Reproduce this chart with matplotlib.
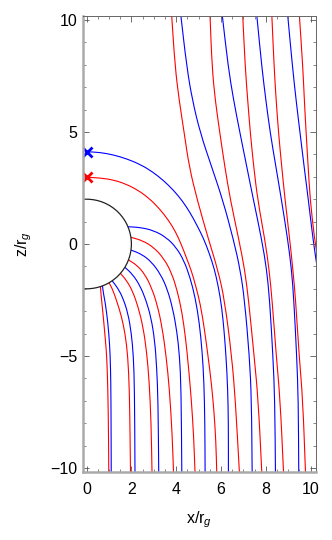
import numpy as np
import matplotlib.pyplot as plt
from matplotlib.patches import Circle, PathPatch
from matplotlib.path import Path

plt.rcParams['font.family'] = ['Liberation Sans', 'DejaVu Sans']
plt.rcParams['mathtext.fontset'] = 'custom'
plt.rcParams['mathtext.rm'] = 'Liberation Sans'
plt.rcParams['mathtext.it'] = 'Liberation Sans:italic'

# field lines, (x, z) in units of r_g
# lines starting on the horizon
red_bh = [
    ([0.62, 0.64, 0.68, 0.76, 0.84, 0.90, 0.95, 0.98, 0.99],
     [-1.90, -2.20, -2.60, -3.40, -4.30, -5.00, -6.50, -8.50, -10.18]),
    ([1.00, 1.15, 1.33, 1.55, 1.72, 1.84, 1.91, 1.94, 1.96],
     [-1.73, -2.00, -2.50, -3.20, -4.00, -5.00, -6.50, -8.50, -10.18]),
    ([1.51, 1.80, 2.05, 2.30, 2.52, 2.68, 2.80, 2.88, 2.92],
     [-1.31, -1.65, -2.10, -2.80, -3.70, -4.80, -6.20, -8.00, -10.18]),
    ([1.87, 2.25, 2.60, 2.90, 3.15, 3.37, 3.55, 3.70, 3.82, 3.88],
     [-0.71, -0.95, -1.35, -1.95, -2.70, -3.70, -5.00, -6.50, -8.50, -10.18]),
    ([1.98, 2.50, 3.00, 3.45, 3.80, 4.05, 4.25, 4.42, 4.55, 4.68, 4.78, 4.84],
     [0.30, 0.15, -0.15, -0.65, -1.30, -2.10, -3.00, -4.20, -5.50, -7.00, -8.60, -10.18]),
]
blue_bh = [
    ([0.71, 0.75, 0.83, 0.95, 1.03, 1.07, 1.09, 1.10],
     [-1.87, -2.20, -2.60, -3.50, -4.50, -5.50, -7.00, -10.18]),
    ([1.14, 1.38, 1.62, 1.85, 2.00, 2.09, 2.14, 2.16],
     [-1.64, -1.95, -2.40, -3.10, -4.00, -5.00, -6.50, -10.18]),
    ([1.71, 2.05, 2.38, 2.65, 2.88, 3.04, 3.13, 3.19, 3.22],
     [-1.04, -1.35, -1.85, -2.50, -3.30, -4.30, -5.50, -7.00, -10.18]),
    ([1.98, 2.45, 2.90, 3.30, 3.60, 3.85, 4.03, 4.15, 4.22, 4.25],
     [-0.27, -0.45, -0.80, -1.35, -2.00, -2.90, -3.90, -5.00, -6.50, -10.18]),
    ([1.85, 2.40, 3.00, 3.55, 4.00, 4.35, 4.62, 4.85, 5.03, 5.16, 5.24, 5.28, 5.29],
     [0.77, 0.74, 0.60, 0.30, -0.15, -0.75, -1.50, -2.40, -3.50, -4.80, -6.20, -8.00, -10.18]),
]

# lines through the marked points on the axis
red_cross_x = [0.00, 0.60, 1.20, 1.75, 2.30, 2.80, 3.25, 3.65, 3.97, 4.22, 4.45, 4.68,
               4.88, 5.08, 5.26, 5.42, 5.57, 5.69, 5.77, 5.81]
red_cross_z = [2.98, 2.95, 2.86, 2.68, 2.40, 2.03, 1.58, 1.07, 0.55, 0.00, -0.60, -1.20,
               -1.90, -2.70, -3.80, -5.00, -6.20, -7.50, -8.80, -10.18]
blue_cross_x = [0.00, 0.60, 1.20, 1.80, 2.40, 2.95, 3.45, 3.88, 4.28, 4.62, 4.92, 5.22,
                5.47, 5.70, 5.88, 6.03, 6.14, 6.23, 6.30, 6.33, 6.33]
blue_cross_z = [4.12, 4.09, 3.98, 3.80, 3.55, 3.22, 2.82, 2.40, 1.92, 1.40, 0.85, 0.25,
                -0.40, -1.10, -1.90, -2.80, -3.90, -5.10, -6.50, -8.00, -10.18]

# lines coming in from the top
z_lev = [10.18, 7.92, 6.43, 4.94, 3.45, 1.96, 0.18, -1.16, -2.50, -5.03, -6.96, -10.18]
red_top = [
    [3.80, 3.95, 4.13, 4.36, 4.58, 4.94, 5.45, 5.86, 6.16, 6.48, 6.64, 6.82],
    [5.51, 5.60, 5.74, 5.95, 6.17, 6.42, 6.80, 7.06, 7.23, 7.48, 7.66, 7.82],
    [6.97, 7.08, 7.19, 7.31, 7.46, 7.64, 7.96, 8.15, 8.28, 8.47, 8.64, 8.79],
    [8.27, 8.37, 8.46, 8.57, 8.71, 8.86, 9.07, 9.21, 9.33, 9.49, 9.65, 9.77],
]
blue_top = [
    [4.21, 4.47, 4.72, 5.08, 5.58, 6.08, 6.56, 6.86, 7.05, 7.27, 7.36, 7.39],
    [6.06, 6.32, 6.56, 6.85, 7.15, 7.45, 7.82, 8.04, 8.17, 8.32, 8.40, 8.43],
    [7.60, 7.82, 8.00, 8.20, 8.45, 8.70, 8.98, 9.15, 9.25, 9.38, 9.45, 9.47],
]
# the two outermost ones leave through the right edge
red_out_x = [9.50, 9.65, 9.72, 9.80, 9.89, 9.98, 10.18, 10.30]
red_out_z = [10.18, 7.92, 6.43, 4.94, 3.45, 1.96, 0.18, -0.50]
blue_out_x = [8.98, 9.19, 9.35, 9.53, 9.71, 9.90, 10.11, 10.30]
blue_out_z = [10.18, 7.92, 6.43, 4.94, 3.45, 1.96, 0.18, -1.10]

red = '#ff0000'
blue = '#0000ff'
lw = 0.8


def field_line(ax, xs, zs, color):
    # smooth curve through the read points (quadratic B-spline path)
    p = np.column_stack([xs, zs])
    verts = [p[0], (p[0] + p[1]) / 2]
    codes = [Path.MOVETO, Path.LINETO]
    for i in range(1, len(p) - 1):
        verts += [p[i], (p[i] + p[i + 1]) / 2]
        codes += [Path.CURVE3, Path.CURVE3]
    verts.append(p[-1])
    codes.append(Path.LINETO)
    ax.add_patch(PathPatch(Path(verts, codes), fill=False, ec=color, lw=lw))


fig = plt.figure(figsize=(3.32, 5.40), dpi=100)
ax = fig.add_axes([83 / 332, 68 / 540, 233 / 332, 456 / 540])

for xs, zs in red_bh:
    field_line(ax, xs, zs, red)
for xs, zs in blue_bh:
    field_line(ax, xs, zs, blue)
field_line(ax, red_cross_x, red_cross_z, red)
field_line(ax, blue_cross_x, blue_cross_z, blue)
for xs in red_top:
    field_line(ax, xs, z_lev, red)
for xs in blue_top:
    field_line(ax, xs, z_lev, blue)
field_line(ax, red_out_x, red_out_z, red)
field_line(ax, blue_out_x, blue_out_z, blue)

ax.add_patch(Circle((0, 0), 2, fill=False, ec='#222222', lw=0.9))
ax.plot([0], [red_cross_z[0]], 'x', color=red, ms=7, mew=2)
ax.plot([0], [blue_cross_z[0]], 'x', color=blue, ms=7, mew=2)

ax.set_xlim(-0.16, 10.24)
ax.set_ylim(-10.18, 10.18)
ax.set_xticks([0, 2, 4, 6, 8, 10])
ax.set_xticks(np.arange(0, 10.3, 0.5), minor=True)
ax.set_yticks([-10, -5, 0, 5, 10])
ax.set_yticks(np.arange(-10, 10.5, 1), minor=True)
ax.set_yticklabels(['\u221210', '\u22125', '0', '5', '10'])
ax.tick_params(which='both', direction='in', top=True, right=True, color='#555555',
               labelsize=11.5)
ax.tick_params(axis='x', pad=7)
ax.tick_params(axis='y', pad=4)
ax.tick_params(which='major', length=4, width=0.6)
ax.tick_params(which='minor', length=2.2, width=0.5)
for s in ['left', 'bottom']:
    ax.spines[s].set_color('#aaaaaa')
    ax.spines[s].set_linewidth(1.8)
for s in ['top', 'right']:
    ax.spines[s].set_color('#666666')
    ax.spines[s].set_linewidth(0.7)

ax.set_xlabel('x/r$_g$', fontsize=11.5, labelpad=9)
ax.set_ylabel('z/r$_g$', fontsize=11.5, labelpad=12)

fig.savefig('out.png', dpi=100)
